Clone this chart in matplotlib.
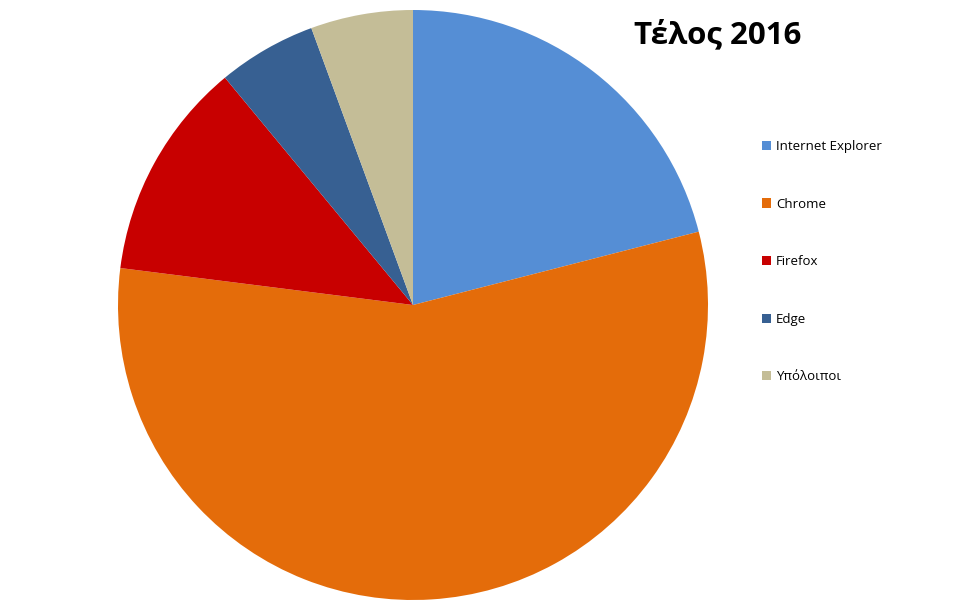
import matplotlib
matplotlib.use("Agg")
import matplotlib.pyplot as plt

# Μερίδια browsers, τέλος 2016 (εκτίμηση από την εικόνα)
browsers = ["Internet Explorer", "Chrome", "Firefox", "Edge", "Υπόλοιποι"]
shares = [21.0, 56.0, 12.0, 5.4, 5.6]
colors = ["#558ED5", "#E46C0A", "#C80000", "#376092", "#C4BD97"]
title = "Τέλος 2016"

plt.rcParams["font.family"] = ["Open Sans", "DejaVu Sans"]

W, H = 960, 610
fig = plt.figure(figsize=(W / 100, H / 100), dpi=100)
cx, cy, r = 413, 305, 295
ax = fig.add_axes([(cx - r) / W, (H - cy - r) / H, 2 * r / W, 2 * r / H])

wedges, _ = ax.pie(shares, colors=colors, startangle=90, counterclock=False,
                   radius=1.0, wedgeprops=dict(linewidth=0))
ax.set_xlim(-1, 1)
ax.set_ylim(-1, 1)
ax.set_aspect("equal")
ax.axis("off")

fig.text(718 / W, 1 - 35 / H, title, ha="center", va="center",
         fontsize=22.5, fontweight="bold", color="black")

fig.legend(wedges, browsers, loc="upper left", bbox_to_anchor=(762 / W, 1 - 140 / H),
           frameon=False, fontsize=9.5, handlelength=0.7, handleheight=0.7,
           handletextpad=0.35, labelspacing=3.38, borderaxespad=0, borderpad=0)

fig.savefig("out.png", dpi=100, facecolor="white")
